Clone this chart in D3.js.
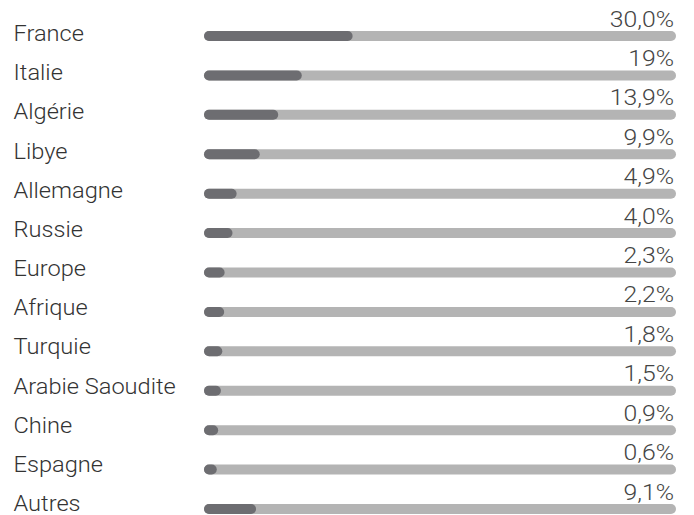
<!DOCTYPE html>
<html>
<head>
<meta charset="utf-8">
<script src="https://cdn.jsdelivr.net/npm/d3@7"></script>
<style>
  body { margin: 0; background: #fff; }
  svg { display: block; font-family: Roboto, "Open Sans", sans-serif; font-weight: 300; }
</style>
</head>
<body>
<div id="chart"></div>
<script>
// data
const countries = ["France", "Italie", "Algérie", "Libye", "Allemagne", "Russie", "Europe",
  "Afrique", "Turquie", "Arabie Saoudite", "Chine", "Espagne", "Autres"];
const shares = [30.0, 19, 13.9, 9.9, 4.9, 4.0, 2.3, 2.2, 1.8, 1.5, 0.9, 0.6, 9.1];
const shareLabels = ["30,0%", "19%", "13,9%", "9,9%", "4,9%", "4,0%", "2,3%", "2,2%",
  "1,8%", "1,5%", "0,9%", "0,6%", "9,1%"];

const width = 694, height = 515;
const barW = 10;

const svg = d3.select("#chart").append("svg")
  .attr("width", width)
  .attr("height", height);

const x = d3.scaleLinear().domain([0, 100]).range([209, 671]);
const y = d3.scalePoint().domain(countries).range([36, 509]);      // bars
const yLabel = d3.scalePoint().domain(countries).range([41, 511]); // country names

const rows = svg.selectAll("g.row")
  .data(countries)
  .enter()
  .append("g")
  .attr("class", "row");

// background track
rows.append("line")
  .attr("x1", x(0))
  .attr("x2", x(100))
  .attr("y1", d => y(d))
  .attr("y2", d => y(d))
  .style("stroke", "#b4b4b4")
  .style("stroke-width", barW)
  .style("stroke-linecap", "round");

// value bar
rows.append("line")
  .attr("x1", x(0))
  .attr("x2", (d, i) => x(shares[i]))
  .attr("y1", d => y(d))
  .attr("y2", d => y(d))
  .style("stroke", "#6d6d71")
  .style("stroke-width", barW)
  .style("stroke-linecap", "round");

// country labels
rows.append("text")
  .attr("transform", d => `translate(13.5,${yLabel(d)}) scale(1.05,1)`)
  .style("font-size", "22.5px")
  .style("fill", "#333")
  .text(d => d);

// value labels
rows.append("text")
  .attr("transform", d => `translate(${x(100) + 3},${y(d) - 9.5}) scale(1.1,1)`)
  .attr("text-anchor", "end")
  .style("font-size", "22.5px")
  .style("fill", "#444")
  .text((d, i) => shareLabels[i]);
</script>
</body>
</html>
